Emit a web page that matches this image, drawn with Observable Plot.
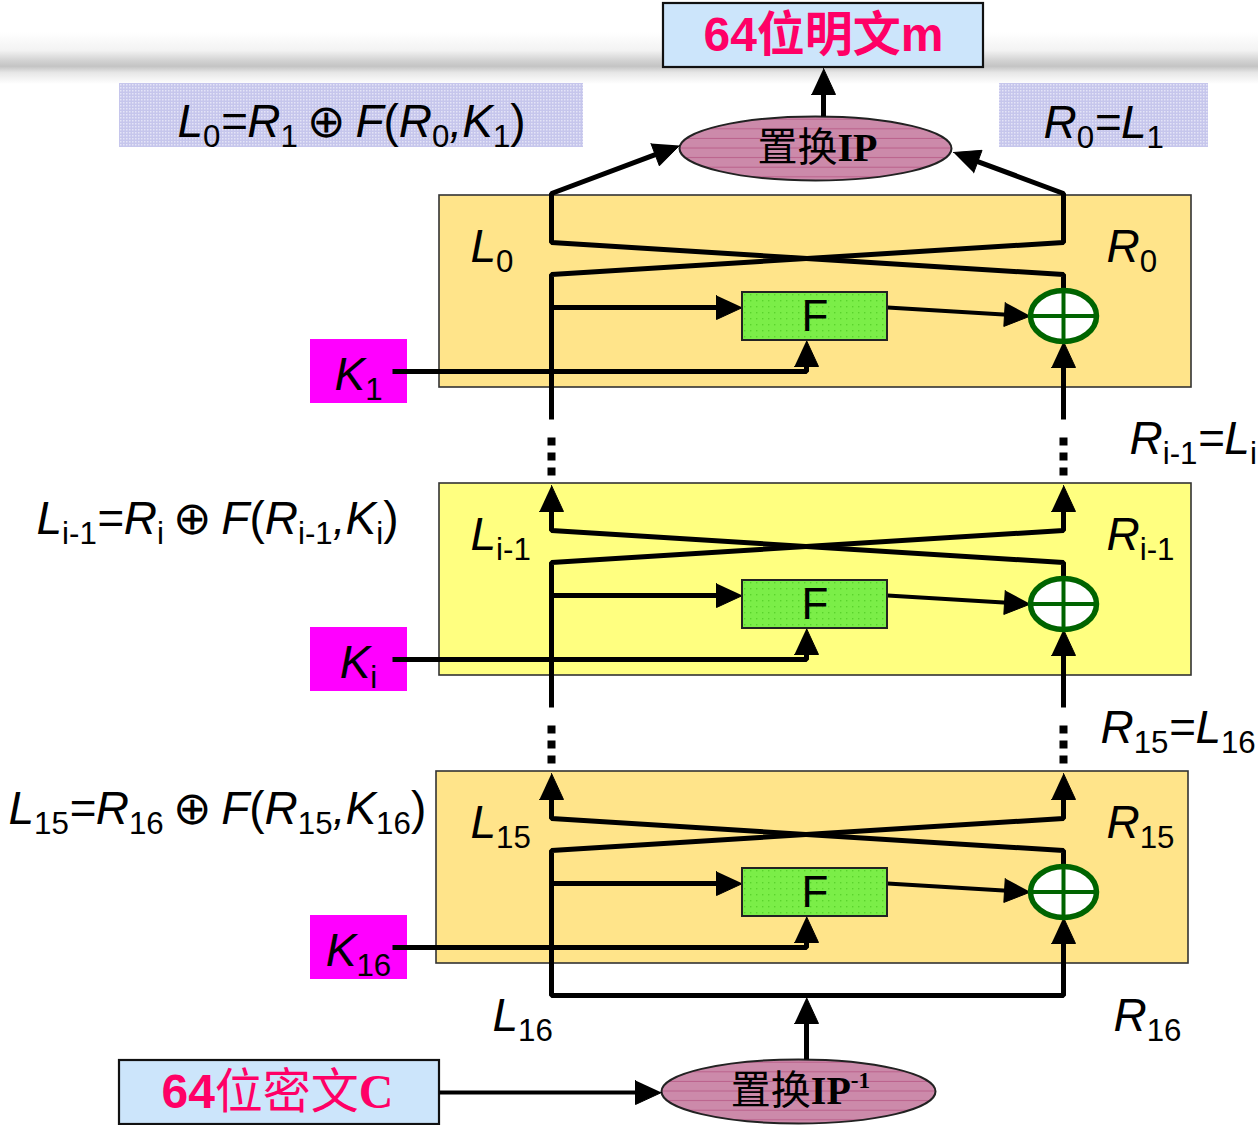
<!DOCTYPE html>
<html><head><meta charset="utf-8">
<script src="https://cdn.jsdelivr.net/npm/d3@7"></script>
<script src="https://cdn.jsdelivr.net/npm/@observablehq/plot@0.6"></script>
<style>body{margin:0;background:#fff}#chart svg{display:block}</style>
</head><body><div id="chart"></div>
<script>
// ---------------- data (texts of the diagram) ----------------
const roundLeftLabels  = ["L_{0}", "L_{i-1}", "L_{15}"];
const roundRightLabels = ["R_{0}", "R_{i-1}", "R_{15}"];
const roundKeys        = ["K_{1}", "K_{i}", "K_{16}"];
const roundTones       = ["amber", "lemon", "amber"];
const leftFormulas  = ["L_{0}=R_{1}\u2009~{⊕}\u2009F~{(}R_{0},K_{1}~{)}", "L_{i-1}=R_{i}\u2009~{⊕}\u2009F~{(}R_{i-1},K_{i}~{)}", "L_{15}=R_{16}\u2009~{⊕}\u2009F~{(}R_{15},K_{16}~{)}"];
const rightFormulas = ["R_{0}=L_{1}", "R_{i-1}=L_{i}", "R_{15}=L_{16}"];
const outputLabels  = ["L_{16}", "R_{16}"];
const plainLabel  = "64位明文m";
const cipherLabel = "%{64}位密文!{C}";
const ipLabel     = "置换!{IP}";
const ipInvLabel  = "置换!{IP}^{-1}";
const fLabel = "F";

// ---------------- layout ----------------
const W = 1258, H = 1125;
const roundTop = [195, 483, 771];
const roundX = [[439, 1191], [439, 1191], [436, 1188]];
const XL = 551, XR = 1063, XF = 806;
const F_X = [742, 887], K_X = [310, 407];
const XOR_RX = 33, XOR_RY = 25.5;
const leftFormulaPos  = [[177, 136], [36, 533], [8, 823]];
const rightFormulaPos = [[1043, 137], [1129, 453], [1100, 742]];
const outputLabelPos  = [[492, 1030], [1113, 1030]];
const lavBoxes = [[119, 583, 83, 147], [999, 1208, 83, 147]];
const blueBoxes = [[663, 983, 3, 67, plainLabel], [119, 439, 1060, 1124, cipherLabel]];
const ellipses = [[815, 148, 136, 32, ipLabel], [798, 1091, 137, 32, ipInvLabel]];
const tone = {amber: "#ffe48a", lemon: "#ffff80"};
const AL = 26, AW = 24; // arrowhead length / width

const rounds = roundTop.map((top, i) => ({
  i, top, x1: roundX[i][0], x2: roundX[i][1], tone: tone[roundTones[i]],
  L: roundLeftLabels[i], R: roundRightLabels[i], K: roundKeys[i],
  yA: top + 47, yB: top + 79, fy: top + 112, xorY: top + 120.5,
  keyY: top + 176, fTop: top + 97, fBot: top + 145, kTop: top + 144, kBot: top + 208
}));

// polylines: {pts, head, tail}
const paths = [];
rounds.forEach((r, i) => {
  const next = roundTop[i + 1];
  const yBelow = i < 2 ? next - 64 : 995;
  const xorTop = r.xorY - XOR_RY, xorBot = r.xorY + XOR_RY;
  if (i === 0) {
    paths.push({pts: [[XL, yBelow], [XL, r.yB], [XR, r.yA], [XR, 193], [953, 152]], head: true});
    paths.push({pts: [[XR, xorTop], [XR, r.yB], [XL, r.yA], [XL, 193], [679, 145]], head: true});
  } else if (i === 1) {
    paths.push({pts: [[XL, yBelow], [XL, r.yB], [XR, r.yA], [XR, r.top + 2]], head: true});
    paths.push({pts: [[XR, xorTop], [XR, r.yB], [XL, r.yA], [XL, r.top + 2]], head: true});
  } else {
    paths.push({pts: [[XR, xorBot], [XR, 995], [XL, 995], [XL, r.yB], [XR, r.yA], [XR, r.top + 2]], head: true, tail: true});
    paths.push({pts: [[XR, xorTop], [XR, r.yB], [XL, r.yA], [XL, r.top + 2]], head: true});
  }
  if (i < 2) paths.push({pts: [[XR, yBelow], [XR, xorBot]], head: true});
  paths.push({pts: [[XL, r.fy], [F_X[0], r.fy]], head: true});
  paths.push({pts: [[F_X[1], r.fy], [XR - XOR_RX, r.xorY]], head: true, w: 4});
  paths.push({pts: [[392, r.keyY], [XF, r.keyY], [XF, r.fBot]], head: true});
});
paths.push({pts: [[823, 116], [823, 68]], head: true});
paths.push({pts: [[XF, 1059], [XF, 997]], head: true});
paths.push({pts: [[439, 1092], [661, 1092]], head: true, w: 4});

const dashes = [];
[0, 1].forEach(i => {
  const next = roundTop[i + 1];
  for (const x of [XL, XR]) dashes.push({id: `${i}-${x}`, pts: [[x, next - 46], [x, next - 8]]});
});

// build line points and arrowheads
const linePts = [], heads = [];
function arrow(tip, from, id) {
  const dx = tip[0] - from[0], dy = tip[1] - from[1], len = Math.hypot(dx, dy);
  const ux = dx / len, uy = dy / len, nx = -uy, ny = ux;
  const bx = tip[0] - ux * AL, by = tip[1] - uy * AL;
  heads.push({id, x: tip[0], y: tip[1]}, {id, x: bx + nx * AW / 2, y: by + ny * AW / 2}, {id, x: bx - nx * AW / 2, y: by - ny * AW / 2});
  return [tip[0] - ux * (AL - 3), tip[1] - uy * (AL - 3)];
}
paths.forEach((p, k) => {
  const pts = p.pts.map(d => d.slice());
  const n = pts.length;
  if (p.head) pts[n - 1] = arrow(p.pts[n - 1], p.pts[n - 2], `h${k}`);
  if (p.tail) pts[0] = arrow(p.pts[0], p.pts[1], `t${k}`);
  pts.forEach(([x, y]) => linePts.push({id: k, x, y, w: p.w || 5}));
});
const dashPts = dashes.flatMap(d => d.pts.map(([x, y]) => ({id: d.id, x, y})));

const xors = rounds.map(r => ({x: XR, y: r.xorY}));

// custom ellipse symbol (size = pi * rx^2)
function ellipseSymbol(aspect) {
  return {draw(ctx, size) {
    const rx = Math.sqrt(size / Math.PI), ry = rx * aspect, k = 0.5523;
    ctx.moveTo(rx, 0);
    ctx.bezierCurveTo(rx, ry * k, rx * k, ry, 0, ry);
    ctx.bezierCurveTo(-rx * k, ry, -rx, ry * k, -rx, 0);
    ctx.bezierCurveTo(-rx, -ry * k, -rx * k, -ry, 0, -ry);
    ctx.bezierCurveTo(rx * k, -ry, rx, -ry * k, rx, 0);
    ctx.closePath();
  }};
}

const SANS = "Liberation Sans, Arial, Noto Sans CJK SC, sans-serif";
const SERIF = "Liberation Serif, Noto Sans CJK SC, serif";

const ellipseMarks = ellipses.map(e => Plot.dot([e], {
  x: d => d[0], y: d => d[1], r: e[2], symbol: ellipseSymbol(e[3] / e[2]),
  fill: "url(#stripes)", stroke: "#222", strokeWidth: 2
}));

const chart = Plot.plot({
  width: W, height: H, margin: 0,
  x: {domain: [0, W], range: [0, W], axis: null},
  y: {domain: [0, H], range: [0, H], axis: null},
  color: {type: "identity"},
  style: {background: "white", overflow: "visible"},
  marks: [
    Plot.rect([0], {x1: 0, x2: W, y1: 32, y2: 84, fill: "url(#band)"}),
    Plot.rect(lavBoxes, {x1: d => d[0], x2: d => d[1], y1: d => d[2], y2: d => d[3], fill: "url(#lav)"}),
    Plot.rect(blueBoxes, {x1: d => d[0], x2: d => d[1], y1: d => d[2], y2: d => d[3], fill: "#cce5fb", stroke: "#111", strokeWidth: 2.2}),
    Plot.rect(rounds, {x1: "x1", x2: "x2", y1: "top", y2: d => d.top + 192, fill: "tone", stroke: "#333", strokeWidth: 1.6}),
    Plot.rect(rounds, {x1: K_X[0], x2: K_X[1], y1: "kTop", y2: "kBot", fill: "#ff00ff"}),
    ...ellipseMarks,
    Plot.line(linePts, {x: "x", y: "y", z: "id", stroke: "black", strokeWidth: "w", strokeLinejoin: "miter", strokeLinecap: "butt"}),
    Plot.line(dashPts, {x: "x", y: "y", z: "id", stroke: "black", strokeWidth: 8, strokeDasharray: "8,7", strokeLinecap: "butt"}),
    Plot.line(heads, {x: "x", y: "y", z: "id", fill: "black", stroke: "black", strokeWidth: 1, strokeLinejoin: "miter"}),
    Plot.rect(rounds, {x1: F_X[0], x2: F_X[1], y1: "fTop", y2: "fBot", fill: "url(#fgreen)", stroke: "#222", strokeWidth: 2}),
    Plot.dot(xors, {x: "x", y: "y", r: XOR_RX, symbol: ellipseSymbol(XOR_RY / XOR_RX), fill: "white", stroke: "#006400", strokeWidth: 5.5}),
    Plot.link(xors, {x1: d => d.x - XOR_RX, x2: d => d.x + XOR_RX, y1: "y", y2: "y", stroke: "#006400", strokeWidth: 4}),
    Plot.link(xors, {x1: "x", x2: "x", y1: d => d.y - XOR_RY, y2: d => d.y + XOR_RY, stroke: "#006400", strokeWidth: 4}),
    // texts
    Plot.text(rounds, {x: (F_X[0] + F_X[1]) / 2, y: d => (d.fTop + d.fBot) / 2, text: () => fLabel, fontSize: 44, fontFamily: SANS, fill: "black"}),
    Plot.text(rounds, {x: 470, y: d => d.top + 66, text: "L", textAnchor: "start", lineAnchor: "bottom", fontSize: 46, fontStyle: "italic", fontFamily: SANS, fill: "black"}),
    Plot.text(rounds, {x: 1106, y: d => d.top + 66, text: "R", textAnchor: "start", lineAnchor: "bottom", fontSize: 46, fontStyle: "italic", fontFamily: SANS, fill: "black"}),
    Plot.text(rounds, {x: 358, y: d => d.kTop + 50, text: "K", textAnchor: "middle", lineAnchor: "bottom", fontSize: 46, fontStyle: "italic", fontFamily: SANS, fill: "black"}),
    Plot.text(leftFormulas, {x: (d, i) => leftFormulaPos[i][0], y: (d, i) => leftFormulaPos[i][1], text: d => d, textAnchor: "start", lineAnchor: "bottom", fontSize: 46, fontStyle: "italic", fontFamily: SANS, fill: "black"}),
    Plot.text(rightFormulas, {x: (d, i) => rightFormulaPos[i][0], y: (d, i) => rightFormulaPos[i][1], text: d => d, textAnchor: "start", lineAnchor: "bottom", fontSize: 46, fontStyle: "italic", fontFamily: SANS, fill: "black"}),
    Plot.text(outputLabels, {x: (d, i) => outputLabelPos[i][0], y: (d, i) => outputLabelPos[i][1], text: d => d, textAnchor: "start", lineAnchor: "bottom", fontSize: 46, fontStyle: "italic", fontFamily: SANS, fill: "black"}),
    Plot.text(blueBoxes.slice(0, 1), {x: d => (d[0] + d[1]) / 2, y: d => (d[2] + d[3]) / 2, text: d => d[4], fontSize: 48, fontWeight: "bold", fontFamily: SANS, fill: "#ff0066"}),
    Plot.text(blueBoxes.slice(1), {x: d => (d[0] + d[1]) / 2 - 2, y: d => (d[2] + d[3]) / 2, text: d => d[4], fontSize: 48, fontFamily: SERIF, fill: "#ff0066"}),
    Plot.text(ellipses, {x: d => d[0] + 2, y: d => d[1], text: d => d[4], fontSize: 40, fontFamily: SERIF, fill: "black"})
  ]
});

// defs: gradient / textures
const NS = "http://www.w3.org/2000/svg";
const defs = document.createElementNS(NS, "defs");
defs.innerHTML = `
<linearGradient id="band" x1="0" y1="0" x2="0" y2="1">
  <stop offset="0" stop-color="#ffffff"/>
  <stop offset="0.35" stop-color="#f3f3f3"/>
  <stop offset="0.55" stop-color="#d2d2d2"/>
  <stop offset="0.66" stop-color="#c4c4c4"/>
  <stop offset="0.78" stop-color="#e6e6e6"/>
  <stop offset="1" stop-color="#ffffff"/>
</linearGradient>
<pattern id="lav" width="3" height="3" patternUnits="userSpaceOnUse">
  <rect width="3" height="3" fill="#c6c6ec"/><rect width="1.5" height="1.5" fill="#e4e4f7"/>
</pattern>
<pattern id="stripes" width="6" height="9.6" patternUnits="userSpaceOnUse">
  <rect width="6" height="9.6" fill="#cc8aaa"/><rect y="8.6" width="6" height="0.9" fill="#b85c88"/>
</pattern>
<pattern id="fgreen" width="6" height="6" patternUnits="userSpaceOnUse">
  <rect width="6" height="6" fill="#7bee48"/><rect width="1.4" height="1.4" fill="#5ad42c"/>
</pattern>`;
chart.insertBefore(defs, chart.firstChild);

// rich text: _{sub} ^{sup} !{bold} %{bold sans} ~{upright}
function richify(svg) {
  svg.querySelectorAll("text").forEach(t => {
    const s = t.textContent;
    if (!/[_^%!~]\{/.test(s)) return;
    const re = /([_^%!~])\{([^}]*)\}/g;
    const parts = []; let last = 0, m;
    while ((m = re.exec(s))) {
      if (m.index > last) parts.push({k: "", v: s.slice(last, m.index)});
      parts.push({k: m[1], v: m[2]});
      last = re.lastIndex;
    }
    if (last < s.length) parts.push({k: "", v: s.slice(last)});
    t.textContent = "";
    let shift = 0;
    for (const p of parts) {
      const ts = document.createElementNS(NS, "tspan");
      ts.textContent = p.v;
      let target = 0, scale = 1;
      if (p.k === "_") { target = 0.22; scale = 0.68; ts.setAttribute("font-style", "normal"); }
      else if (p.k === "^") { target = -0.4; scale = 0.58; ts.setAttribute("font-weight", "bold"); }
      else if (p.k === "%") { ts.setAttribute("font-family", SANS); ts.setAttribute("font-weight", "bold"); }
      else if (p.k === "!") { ts.setAttribute("font-weight", "bold"); }
      else if (p.k === "~") {
        ts.setAttribute("font-style", "normal");
        if (p.v === "⊕") { ts.setAttribute("font-family", "DejaVu Sans"); ts.setAttribute("font-weight", "200"); ts.setAttribute("font-size", "1em"); }
      }
      if (scale !== 1) ts.setAttribute("font-size", scale + "em");
      const d = target - shift;
      if (d) ts.setAttribute("dy", (d / scale).toFixed(3) + "em");
      shift = target;
      t.appendChild(ts);
    }
  });
}
richify(chart);
document.getElementById("chart").appendChild(chart);
</script></body></html>
